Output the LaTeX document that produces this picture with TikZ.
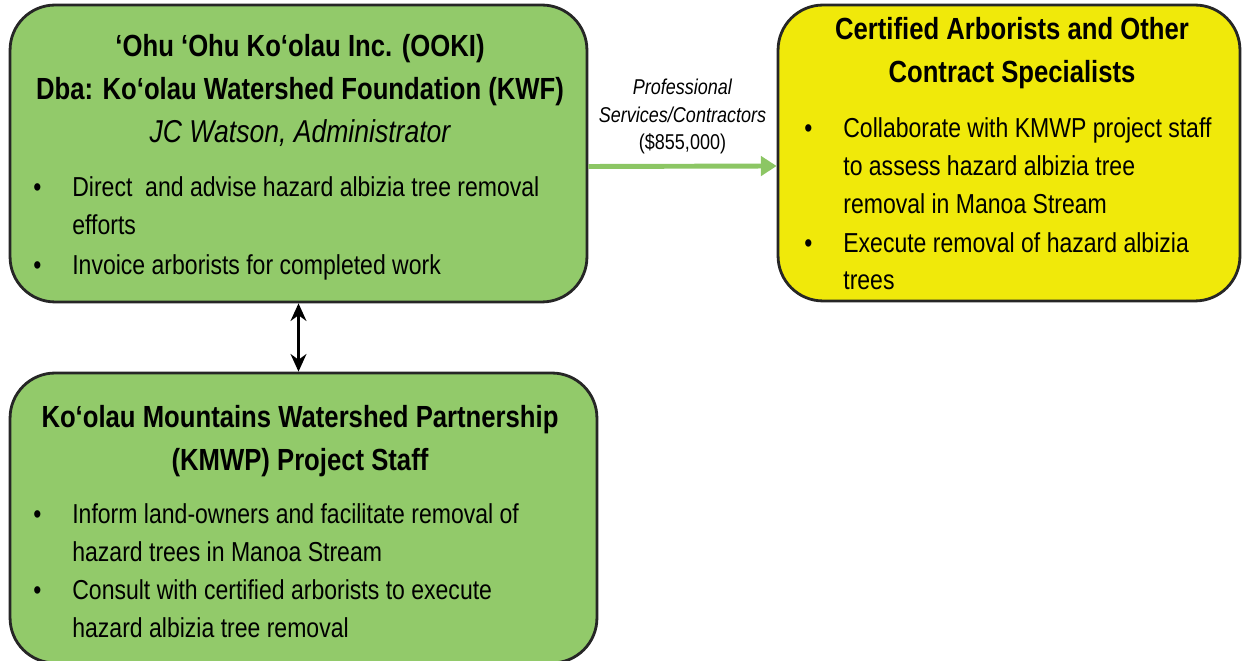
\documentclass[tikz,border=0pt]{standalone}
\usepackage{fontspec}
\setmainfont{Liberation Sans}[FakeStretch=0.84]
\usetikzlibrary{positioning, arrows.meta}
\definecolor{KWFGreen}{RGB}{146,202,106}
\definecolor{ArbYellow}{RGB}{240,233,10}
\definecolor{LinkGreen}{RGB}{140,198,100}
\newcommand{\bul}{\llap{\textbullet\hspace{0.62cm}}}

\begin{document}
\begin{tikzpicture}[x=0.02cm, y=-0.02cm,
    box/.style={draw=black!85, line width=1.6pt, rounded corners=0.9cm, inner sep=0pt},
    head/.style={font=\bfseries\fontsize{17.4}{24.4}\selectfont, align=center, anchor=north, inner sep=0pt},
    item/.style={font=\fontsize{15.6}{21.6}\selectfont, align=left, anchor=north west, inner sep=0pt},
    note/.style={text=black, font=\fontsize{12.2}{15.9}\selectfont, align=center}]
    \useasboundingbox (0,0) rectangle (1243,661);
    % boxes
    \node[box, fill=KWFGreen, minimum width=11.54cm, minimum height=5.94cm] (ooki) at (298.5,153.5) {};
    \node[box, fill=ArbYellow, minimum width=9.24cm, minimum height=5.92cm] (arb) at (1009,153) {};
    \node[box, fill=KWFGreen, minimum width=11.74cm, minimum height=5.8cm] (kmwp) at (303.5,518) {};
    % OOKI / KWF
    \node[head] (ookiT) at (300,34) {‘Ohu ‘Ohu Ko‘olau Inc. (OOKI)\\Dba: Ko‘olau Watershed Foundation (KWF)};
    \node[head, font=\itshape\fontsize{18}{24.4}\selectfont] (ookiA) at (300,119) {JC Watson, Administrator};
    \node[item] (ookiB1) at (72,176) {\bul Direct\ \ and advise hazard albizia tree removal\\efforts};
    \node[item] (ookiB2) at (72,254) {\bul Invoice arborists for completed work};
    % arborists
    \node[head] (arbT) at (1012,17) {Certified Arborists and Other\\Contract Specialists};
    \node[item, font=\fontsize{15.6}{21.8}\selectfont] (arbB1) at (843,117) {\bul Collaborate with KMWP project staff\\to assess hazard albizia tree\\removal in Manoa Stream};
    \node[item, font=\fontsize{15.6}{21}\selectfont] (arbB2) at (843,232) {\bul Execute removal of hazard albizia\\trees};
    % KMWP
    \node[head] (kmwpT) at (300,405) {Ko‘olau Mountains Watershed Partnership\\(KMWP) Project Staff};
    \node[item] (kmwpB1) at (72,503) {\bul Inform land-owners and facilitate removal of\\hazard trees in Manoa Stream};
    \node[item] (kmwpB2) at (72,579) {\bul Consult with certified arborists to execute\\hazard albizia tree removal};
    % links
    \draw[LinkGreen, line width=2.8pt, -{Triangle[length=9pt, width=11pt]}]
        ([yshift=-0.26cm]ooki.east) -- ([yshift=-0.26cm]arb.west)
        node[note, midway, above=2pt] (fee) {\textit{Professional}\\\textit{Services/Contractors}\\(\$855,000)};
    \draw[black, line width=2pt, {Stealth[length=10pt, width=9pt]}-{Stealth[length=10pt, width=9pt]}]
        (ooki.south) -- (ooki.south |- kmwp.north);
\end{tikzpicture}
\end{document}
